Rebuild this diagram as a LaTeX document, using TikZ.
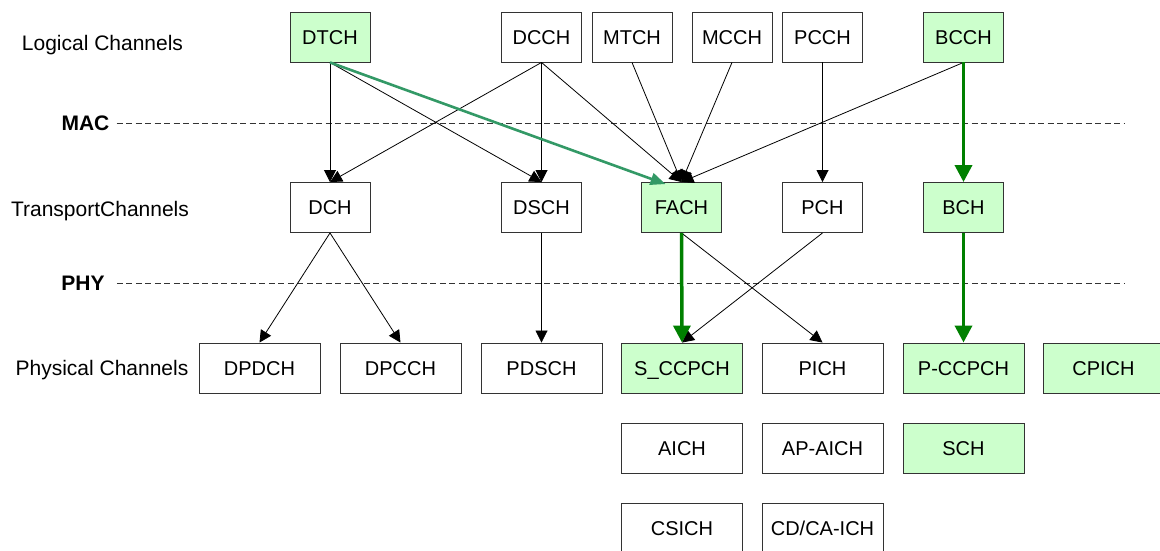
\documentclass[tikz,border=0pt]{standalone}
\usepackage{fontspec}
\setmainfont{Liberation Sans}
\usetikzlibrary{arrows.meta}
\definecolor{chfill}{RGB}{204,255,204}
\definecolor{pathgreen}{RGB}{0,128,0}
\definecolor{dtchgreen}{RGB}{51,153,102}
\begin{document}
\begin{tikzpicture}[x=1pt,y=-1pt,
  chan/.style={draw=black!80, line width=0.9pt, fill=white, minimum width=80pt,
    minimum height=50pt, inner sep=0pt, text height=17pt, text depth=2.4pt,
    font=\fontsize{20}{23}\selectfont},
  wchan/.style={chan, minimum width=121pt},
  hl/.style={fill=chfill},
  lbl/.style={font=\fontsize{21}{24}\selectfont, inner sep=0pt},
  layer/.style={font=\fontsize{21}{24}\selectfont\bfseries, inner sep=0pt},
  sep/.style={line width=0.8pt, dash pattern=on 6pt off 3.5pt, black!80},
  link/.style={line width=0.8pt, -{Triangle[length=12pt,width=12pt]}},
  mainpath/.style={pathgreen, line width=3.5pt, -{Triangle[length=17pt,width=17pt]}},
  dtchpath/.style={dtchgreen, line width=2.6pt, -{Triangle[length=15pt,width=12pt]}}
]
\useasboundingbox (0,0) rectangle (1160,550);

% row labels
\node[lbl] (lLog)  at (102.5,45)  {Logical Channels};
\node[lbl] (lTr)   at (100,211) {TransportChannels};
\node[lbl] (lPhy)  at (102,370) {Physical Channels};
\node[layer] (mac) at (85.5,123) {MAC};
\node[layer] (phy) at (83,283) {PHY};

% layer separators
\coordinate (macEnd) at (1125,123);
\coordinate (phyEnd) at (1125,283);
\draw[sep] ([xshift=7pt]mac.east) -- (macEnd);
\draw[sep] ([xshift=12pt]phy.east) -- (phyEnd);

% logical channels
\node[chan,hl] (dtch) at (330,37)   {DTCH};
\node[chan]    (dcch) at (541.5,37) {DCCH};
\node[chan]    (mtch) at (632,37)   {MTCH};
\node[chan]    (mcch) at (732,37)   {MCCH};
\node[chan]    (pcch) at (822.5,37) {PCCH};
\node[chan,hl] (bcch) at (963.5,37) {BCCH};

% transport channels
\node[chan]    (dch)  at (330,207.5)   {DCH};
\node[chan]    (dsch) at (541.5,207.5) {DSCH};
\node[chan,hl] (fach) at (681.5,207.5) {FACH};
\node[chan]    (pch)  at (822.5,207.5) {PCH};
\node[chan,hl] (bch)  at (963.5,207.5) {BCH};

% physical channels
\node[wchan]    (dpdch)  at (259.5,368) {DPDCH};
\node[wchan]    (dpcch)  at (400.5,368) {DPCCH};
\node[wchan]    (pdsch)  at (541.5,368) {PDSCH};
\node[wchan,hl] (sccpch) at (682,368)   {S\_CCPCH};
\node[wchan]    (pich)   at (822.5,368) {PICH};
\node[wchan,hl] (pccpch) at (963.5,368) {P-CCPCH};
\node[wchan,hl] (cpich)  at (1103.5,368) {CPICH};
\node[wchan]    (aich)   at (682,448)   {AICH};
\node[wchan]    (apaich) at (822.5,448) {AP-AICH};
\node[wchan,hl] (sch)    at (963.5,448) {SCH};
\node[wchan]    (csich)  at (682,528)   {CSICH};
\node[wchan]    (cdcaich) at (822.5,528) {CD/CA-ICH};

% logical -> transport mapping
\draw[link] (dtch.south) -- (dch.north);
\draw[link] (dtch.south) -- (dsch.north);
\draw[link] (dcch.south) -- (dch.north);
\draw[link] (dcch.south) -- (dsch.north);
\draw[link] (dcch.south) -- (fach.north);
\draw[link] (mtch.south) -- (fach.north);
\draw[link] (mcch.south) -- (fach.north);
\draw[link] (bcch.south) -- (fach.north);
\draw[link] (pcch.south) -- (pch.north);
\draw[dtchpath] (dtch.south) -- ([xshift=-16pt,yshift=-2pt]fach.north);
\draw[mainpath] (bcch.south) -- (bch.north);

% transport -> physical mapping
\draw[link] (dch.south) -- (dpdch.north);
\draw[link] (dch.south) -- (dpcch.north);
\draw[link] (dsch.south) -- (pdsch.north);
\draw[link] (fach.south) -- (pich.north);
\draw[link] (pch.south) -- (sccpch.north);
\draw[mainpath] (fach.south) -- (sccpch.north);
\draw[mainpath] (bch.south) -- (pccpch.north);
\end{tikzpicture}
\end{document}
